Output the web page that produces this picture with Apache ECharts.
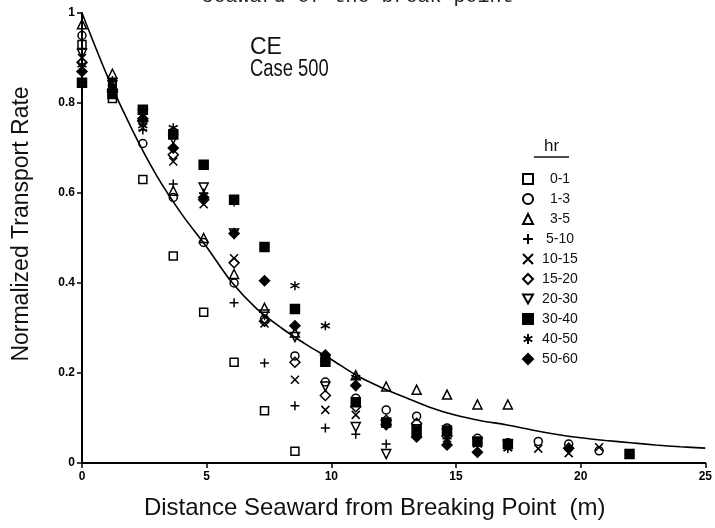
<!DOCTYPE html>
<html><head><meta charset="utf-8">
<script src="https://cdn.jsdelivr.net/npm/echarts@6/dist/echarts.min.js"></script>
<style>html,body{margin:0;padding:0;background:#fff}#c{width:715px;height:528px}</style>
</head><body><div id="c"></div>
<script>
// Measuring stations (m seaward of breaking point)
const stations = [0, 1.22, 2.44, 3.66, 4.88, 6.10, 7.32, 8.54, 9.76, 10.98, 12.20, 13.42, 14.64, 15.86, 17.08, 18.30, 19.52, 20.74, 21.96];
// Normalized transport rate per time interval (hr), aligned with stations
const hr0_1   = [0.93, 0.81, 0.63, 0.46, 0.335, 0.224, 0.116, 0.026, null, null, null, null, null, null, null, null, null, null, null];
const hr1_3   = [0.95, 0.84, 0.71, 0.59, 0.49, 0.40, 0.32, 0.238, 0.18, 0.144, 0.118, 0.104, 0.078, 0.055, 0.045, 0.048, 0.042, 0.027, 0.02];
const hr3_5   = [0.975, 0.865, 0.77, 0.605, 0.50, 0.42, 0.345, 0.29, 0.235, 0.195, 0.17, 0.163, 0.152, 0.13, 0.13, null, null, null, null];
const hr5_10  = [0.92, 0.835, 0.74, 0.62, 0.60, 0.356, 0.222, 0.127, 0.078, 0.064, 0.042, null, null, null, null, null, null, null, null];
const hr10_15 = [0.90, 0.845, 0.745, 0.67, 0.575, 0.455, 0.31, 0.185, 0.118, 0.107, 0.09, 0.068, 0.055, null, 0.035, 0.032, 0.022, 0.035, 0.022];
const hr15_20 = [0.89, 0.83, 0.76, 0.685, 0.585, 0.445, 0.315, 0.224, 0.15, 0.125, 0.095, 0.088, 0.06, null, null, null, null, null, null];
const hr20_30 = [0.91, 0.84, 0.775, 0.72, 0.612, 0.51, 0.33, 0.28, 0.17, 0.08, 0.02, 0.075, 0.065, 0.045, 0.04, null, null, null, null];
const hr30_40 = [0.845, 0.82, 0.785, 0.73, 0.663, 0.585, 0.48, 0.342, 0.225, 0.135, 0.09, 0.072, 0.072, 0.048, 0.042, null, null, null, 0.02];
const hr40_50 = [0.885, 0.85, 0.75, 0.745, 0.595, 0.58, 0.48, 0.394, 0.305, 0.19, 0.085, 0.065, 0.058, 0.04, 0.032, null, null, null, null];
const hr50_60 = [0.87, 0.825, 0.765, 0.70, 0.59, 0.51, 0.405, 0.305, 0.24, 0.172, 0.085, 0.058, 0.04, 0.024, null, null, 0.033, null, null];
// Fitted curve
const curveX = [0, 1, 2, 3, 4, 5, 6, 7, 8, 9, 10, 11, 12, 13, 14, 15, 16, 17, 18, 19, 20, 21, 22, 23, 24, 25];
const curveY = [1.0, 0.862, 0.742, 0.638, 0.553, 0.480, 0.402, 0.343, 0.300, 0.263, 0.230, 0.195, 0.168, 0.145, 0.123, 0.106, 0.094, 0.085, 0.074, 0.064, 0.056, 0.050, 0.045, 0.040, 0.036, 0.033];
const seriesNames = ['0-1', '1-3', '3-5', '5-10', '10-15', '15-20', '20-30', '30-40', '40-50', '50-60'];
const xTickLabels = ['0', '5', '10', '15', '20', '25'];
const yTickLabels = ['0', '0.2', '0.4', '0.6', '0.8', '1'];

const seriesValues = [hr0_1, hr1_3, hr3_5, hr5_10, hr10_15, hr15_20, hr20_30, hr30_40, hr40_50, hr50_60];
const HOLLOW = 'rgba(0,0,0,0)';
const symbolDefs = [
  {symbol: 'rect', size: 8, fill: HOLLOW},
  {symbol: 'circle', size: 8, fill: HOLLOW},
  {symbol: 'triangle', size: 9, fill: HOLLOW},
  {symbol: 'path://M5,0L5,10M0,5L10,5', size: 9, fill: HOLLOW},
  {symbol: 'path://M0,0L10,10M10,0L0,10', size: 8, fill: HOLLOW},
  {symbol: 'diamond', size: 10, fill: HOLLOW},
  {symbol: 'path://M0,0L10,0L5,9Z', size: 9, fill: HOLLOW},
  {symbol: 'path://M0,0L10,0L10,10L0,10Z M2,2L2,4L4,4L4,2Z M6,2L6,4L8,4L8,2Z M2,6L2,8L4,8L4,6Z M6,6L6,8L8,8L8,6Z', size: 9, fill: '#000'},
  {symbol: 'path://M5,0L5,10M0.7,2.5L9.3,7.5M0.7,7.5L9.3,2.5', size: 9, fill: HOLLOW},
  {symbol: 'path://M5,0L10,5L5,10L0,5Z M4.4,1.8L4.4,4.4L1.8,4.4L1.8,5.6L4.4,5.6L4.4,8.2L5.6,8.2L5.6,5.6L8.2,5.6L8.2,4.4L5.6,4.4L5.6,1.8Z', size: 10, fill: '#000'}
];

const series = seriesNames.map((name, i) => ({
  name: name,
  type: 'scatter',
  symbol: symbolDefs[i].symbol,
  symbolSize: symbolDefs[i].size,
  itemStyle: {color: symbolDefs[i].fill, borderColor: '#000', borderWidth: 1.5, opacity: 1},
  data: stations.map((x, k) => seriesValues[i][k] == null ? null : [x, seriesValues[i][k]]).filter(d => d),
  z: 3
}));
series.push({
  name: 'fit', type: 'line', smooth: 0.3, showSymbol: false, silent: true,
  lineStyle: {color: '#000', width: 1.6},
  data: curveX.map((x, k) => [x, curveY[k]]), z: 2
});

const chart = echarts.init(document.getElementById('c'), null, {renderer: 'canvas'});
const SANS = '"Liberation Sans", Arial, sans-serif';
chart.setOption({
  animation: false,
  backgroundColor: '#fff',
  grid: {left: 82, right: 8, top: 13, bottom: 65},
  xAxis: {
    type: 'value', min: 0, max: 25, interval: 5,
    name: 'Distance Seaward from Breaking Point  (m)', nameLocation: 'middle', nameGap: 33,
    nameTextStyle: {fontFamily: SANS, fontSize: 24, color: '#111', padding: [0, 38, 0, 0]},
    axisLine: {show: true, onZero: false, lineStyle: {color: '#000', width: 2}},
    axisTick: {show: true, length: 5, lineStyle: {color: '#000', width: 1.5}},
    axisLabel: {color: '#000', fontFamily: SANS, fontWeight: 'bold', fontSize: 12, margin: 8,
      formatter: v => xTickLabels[Math.round(v / 5)]},
    splitLine: {show: false}
  },
  yAxis: {
    type: 'value', min: 0, max: 1, interval: 0.2,
    name: 'Normalized Transport Rate', nameLocation: 'middle', nameGap: 49,
    nameTextStyle: {fontFamily: SANS, fontSize: 23, color: '#111', padding: [0, 0, 0, 28]},
    axisLine: {show: true, onZero: false, lineStyle: {color: '#000', width: 2}},
    axisTick: {show: true, length: 5, lineStyle: {color: '#000', width: 1.5}},
    axisLabel: {color: '#000', fontFamily: SANS, fontWeight: 'bold', fontSize: 12, margin: 7,
      formatter: v => yTickLabels[Math.round(v / 0.2)]},
    splitLine: {show: false}
  },
  legend: {
    data: seriesNames, orient: 'vertical', left: 517, top: 167,
    itemWidth: 10, itemHeight: 10, itemGap: 6,
    formatter: '{t|{name}}',
    textStyle: {rich: {t: {width: 44, align: 'center', fontSize: 14, fontFamily: SANS, color: '#111'}}}
  },
  graphic: [
    {type: 'text', left: 'center', top: -13, style: {text: 'seaward of the break point', font: '20px "Liberation Mono", monospace', fill: '#222'}},
    {type: 'text', left: 250, top: 36, style: {text: 'CE', font: '23px "Liberation Sans", sans-serif', fill: '#111'}},
    {type: 'text', x: 250, y: 58, scaleX: 0.8, style: {text: 'Case 500', font: '23px "Liberation Sans", sans-serif', fill: '#111'}},
    {type: 'text', left: 544, top: 138, style: {text: 'hr', font: '17px "Liberation Sans", sans-serif', fill: '#111'}},
    {type: 'line', shape: {x1: 534, y1: 157, x2: 569, y2: 157}, style: {stroke: '#111', lineWidth: 1.5}}
  ],
  series: series
});
</script></body></html>
